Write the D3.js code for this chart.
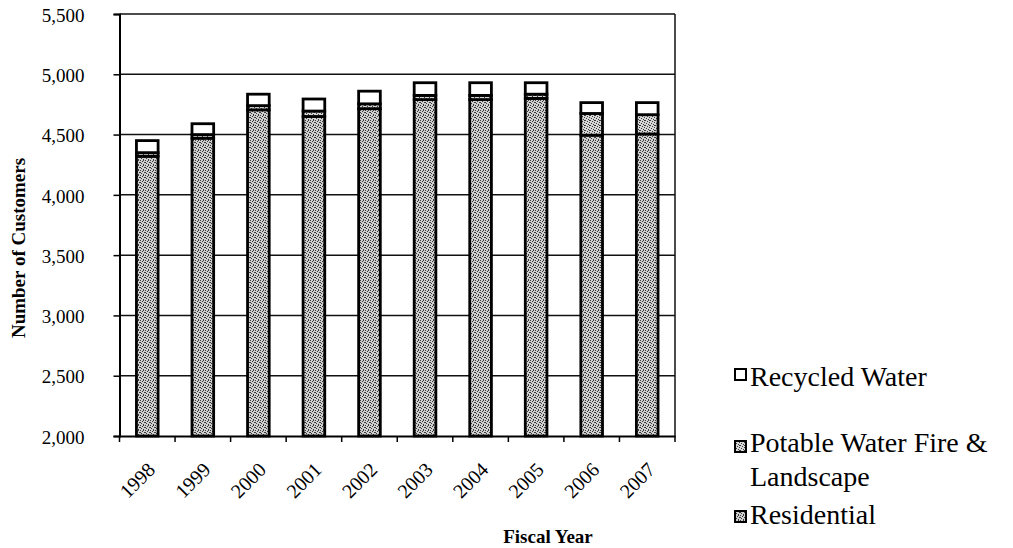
<!DOCTYPE html>
<html>
<head>
<meta charset="utf-8">
<script src="https://cdn.jsdelivr.net/npm/d3@7"></script>
<style>
  html, body { margin: 0; padding: 0; background: #fff; }
  svg { display: block; }
</style>
</head>
<body>
<svg id="chart" width="1013" height="548"></svg>
<script>
const years = ["1998","1999","2000","2001","2002","2003","2004","2005","2006","2007"];
const residential = [4320, 4470, 4705, 4650, 4715, 4790, 4790, 4800, 4495, 4505];
const potable     = [30, 30, 35, 45, 40, 35, 35, 35, 180, 160];
const recycled    = [100, 90, 95, 100, 105, 105, 105, 95, 90, 100];
const yTicks = [2000, 2500, 3000, 3500, 4000, 4500, 5000, 5500];
const seriesNames = ["Residential", "Potable Water Fire & Landscape", "Recycled Water"];
const legendLabels = [["Recycled Water"], ["Potable Water Fire &", "Landscape"], ["Residential"]];

const FONT = "'Liberation Serif', 'Times New Roman', serif";
const svg = d3.select("#chart");
const plotL = 119.5, plotR = 675, plotT = 14, plotB = 436;

// stipple patterns
const defs = svg.append("defs");
function stipple(id, bg, dots) {
  const p = defs.append("pattern").attr("id", id).attr("patternUnits", "userSpaceOnUse")
    .attr("width", 5).attr("height", 5);
  p.append("rect").attr("width", 5).attr("height", 5).attr("fill", bg);
  dots.forEach(d => p.append("rect").attr("x", d[0]).attr("y", d[1]).attr("width", 1).attr("height", 1).attr("fill", "#3a3a3a"));
}
stipple("resPat", "#cfcfcf", [[0,0],[2,1],[4,2],[1,3],[3,4],[3,0],[0,2]]);
stipple("potPat", "#d6d6d6", [[0,0],[2,1],[4,2],[1,3],[3,4],[4,0]]);
const fills = ["url(#resPat)", "url(#potPat)", "#ffffff"];

const x = d3.scaleBand().domain(years).range([plotL, plotR]).padding(0);
const y = d3.scaleLinear().domain([2000, 5500]).range([plotB, plotT]);

// gridlines
svg.append("g").selectAll("line").data(yTicks.filter(v => v > 2000)).join("line")
  .attr("x1", plotL).attr("x2", plotR)
  .attr("y1", d => y(d)).attr("y2", d => y(d))
  .attr("stroke", "#111").attr("stroke-width", 1.5);
// right border
svg.append("line").attr("x1", plotR).attr("x2", plotR).attr("y1", plotT).attr("y2", plotB)
  .attr("stroke", "#111").attr("stroke-width", 1.5);

// stacked data
const rows = years.map((yr, i) => ({ year: yr, Residential: residential[i],
  "Potable Water Fire & Landscape": potable[i], "Recycled Water": recycled[i] }));
const stack = d3.stack().keys(seriesNames)(rows);

const barW = x.bandwidth() * 0.39;
stack.forEach((s, si) => {
  svg.append("g").selectAll("rect").data(s).join("rect")
    .attr("x", d => x(d.data.year) + (x.bandwidth() - barW) / 2)
    .attr("y", d => y(d[1]))
    .attr("width", barW)
    .attr("height", d => y(Math.max(d[0], 2000)) - y(d[1]))
    .attr("fill", fills[si])
    .attr("stroke", "#000").attr("stroke-width", 2.8);
});

// y axis
const yAxis = svg.append("g").attr("transform", `translate(${plotL},0)`)
  .call(d3.axisLeft(y).tickValues(yTicks).tickFormat(d3.format(",")).tickSize(6).tickPadding(0));
yAxis.select(".domain").attr("stroke", "#000").attr("stroke-width", 2);
yAxis.selectAll(".tick line").attr("stroke", "#000").attr("stroke-width", 1.5);
yAxis.selectAll(".tick text").attr("x", -35).attr("dy", "0.38em")
  .style("font-size", "19px").style("font-family", FONT);

// x axis
const xAxis = svg.append("g").attr("transform", `translate(0,${plotB})`)
  .call(d3.axisBottom(x).tickSize(0).tickFormat(""));
xAxis.select(".domain").attr("stroke", "#000").attr("stroke-width", 2);
xAxis.selectAll(".tick").remove();
const bounds = years.map(yr => x(yr)).concat([plotR]);
svg.append("g").selectAll("line").data(bounds).join("line")
  .attr("x1", d => d).attr("x2", d => d).attr("y1", plotB).attr("y2", plotB + 6)
  .attr("stroke", "#000").attr("stroke-width", 1.5);
svg.append("g").selectAll("text").data(years).join("text")
  .attr("transform", d => `translate(${x(d) + x.bandwidth() / 2 + 9},${plotB + 35}) rotate(-45)`)
  .attr("text-anchor", "end")
  .style("font-size", "20px").style("font-family", FONT)
  .text(d => d);

// axis titles
svg.append("text").attr("transform", "translate(25,248) rotate(-90)")
  .attr("text-anchor", "middle").style("font-size", "19px").style("font-weight", "bold")
  .style("font-family", FONT)
  .text("Number of Customers");
svg.append("text").attr("x", 548).attr("y", 543)
  .attr("text-anchor", "middle").style("font-size", "19px").style("font-weight", "bold")
  .style("font-family", FONT)
  .text("Fiscal Year");

// legend
const legFills = [fills[2], fills[1], fills[0]];
const boxY = [369, 441, 511];
const baseY = [386, 452, 524];
legendLabels.forEach((lines, i) => {
  svg.append("rect").attr("x", 735).attr("y", boxY[i]).attr("width", 11).attr("height", 11)
    .attr("fill", legFills[i]).attr("stroke", "#000").attr("stroke-width", 2);
  lines.forEach((t, j) => {
    svg.append("text").attr("x", 750).attr("y", baseY[i] + j * 34)
      .style("font-size", "28px").style("font-family", FONT).text(t);
  });
});
</script>
</body>
</html>
